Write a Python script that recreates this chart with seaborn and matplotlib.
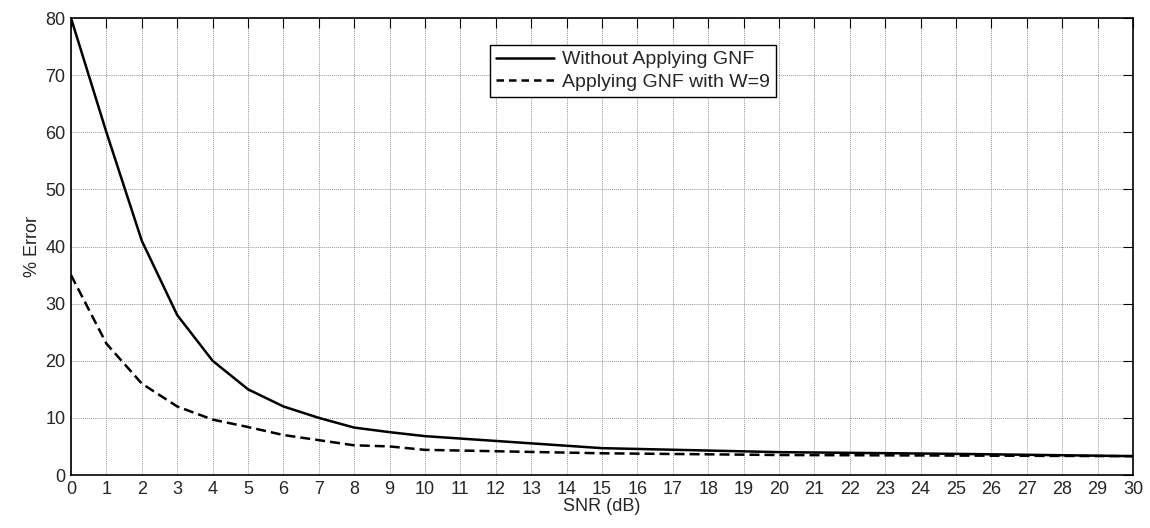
import matplotlib
matplotlib.use("Agg")
import matplotlib.pyplot as plt
import seaborn as sns
import pandas as pd
from matplotlib.lines import Line2D

snr_db = [0, 1, 2, 3, 4, 5, 6, 7, 8, 9, 10, 15, 20, 25, 30]
err_without = [80, 60, 41, 28, 20, 15, 12, 10, 8.3, 7.5, 6.8, 4.7, 4.0, 3.7, 3.3]
err_gnf = [35, 23, 16, 12, 9.7, 8.4, 7.0, 6.1, 5.2, 5.0, 4.4, 3.8, 3.5, 3.4, 3.3]
labels = ["Without Applying GNF", "Applying GNF with W=9"]

sns.set_style("white")
plt.rcParams['font.family'] = ['Liberation Sans', 'DejaVu Sans']

df = pd.DataFrame({"SNR": snr_db * 2,
                   "Error": err_without + err_gnf,
                   "Series": [labels[0]] * len(snr_db) + [labels[1]] * len(snr_db)})

fig = plt.figure(figsize=(11.5, 5.28), dpi=100)
ax = fig.add_axes([71/1150, 1 - 475/528, (1133-71)/1150, (475-18)/528])

sns.lineplot(data=df, x="SNR", y="Error", hue="Series", style="Series",
             palette=["black", "black"], dashes=[(None, None), (4, 2)],
             linewidth=1.8, ax=ax, legend=False)

ax.set_xlim(0, 30)
ax.set_ylim(0, 80)
ax.set_xticks(range(0, 31))
ax.set_yticks(range(0, 81, 10))
ax.grid(True, color="#999999", linestyle=(0, (1, 1)), linewidth=0.7)
ax.tick_params(direction="in", length=7, width=0.8, labelsize=13, top=True, right=True,
               color="black")
ax.tick_params(axis="x", pad=4)
ax.tick_params(axis="y", pad=4)
for s in ax.spines.values():
    s.set_visible(True)
    s.set_color("black")
    s.set_linewidth(1.2)
ax.set_xlabel("SNR (dB)", fontsize=13, labelpad=0)
ax.set_ylabel("% Error", fontsize=13, labelpad=3)

handles = [Line2D([], [], color="black", lw=1.8),
           Line2D([], [], color="black", lw=1.8, dashes=(3, 2))]
leg = ax.legend(handles, labels, loc="upper left", bbox_to_anchor=(490/1150, 1 - 45/528),
                bbox_transform=fig.transFigure, fontsize=14, frameon=True, fancybox=False,
                edgecolor="black", framealpha=1, borderpad=0.3, handlelength=3.0,
                handletextpad=0.4, labelspacing=0.25, borderaxespad=0)
leg.get_frame().set_linewidth(1.0)

fig.savefig("out.png", dpi=100)
